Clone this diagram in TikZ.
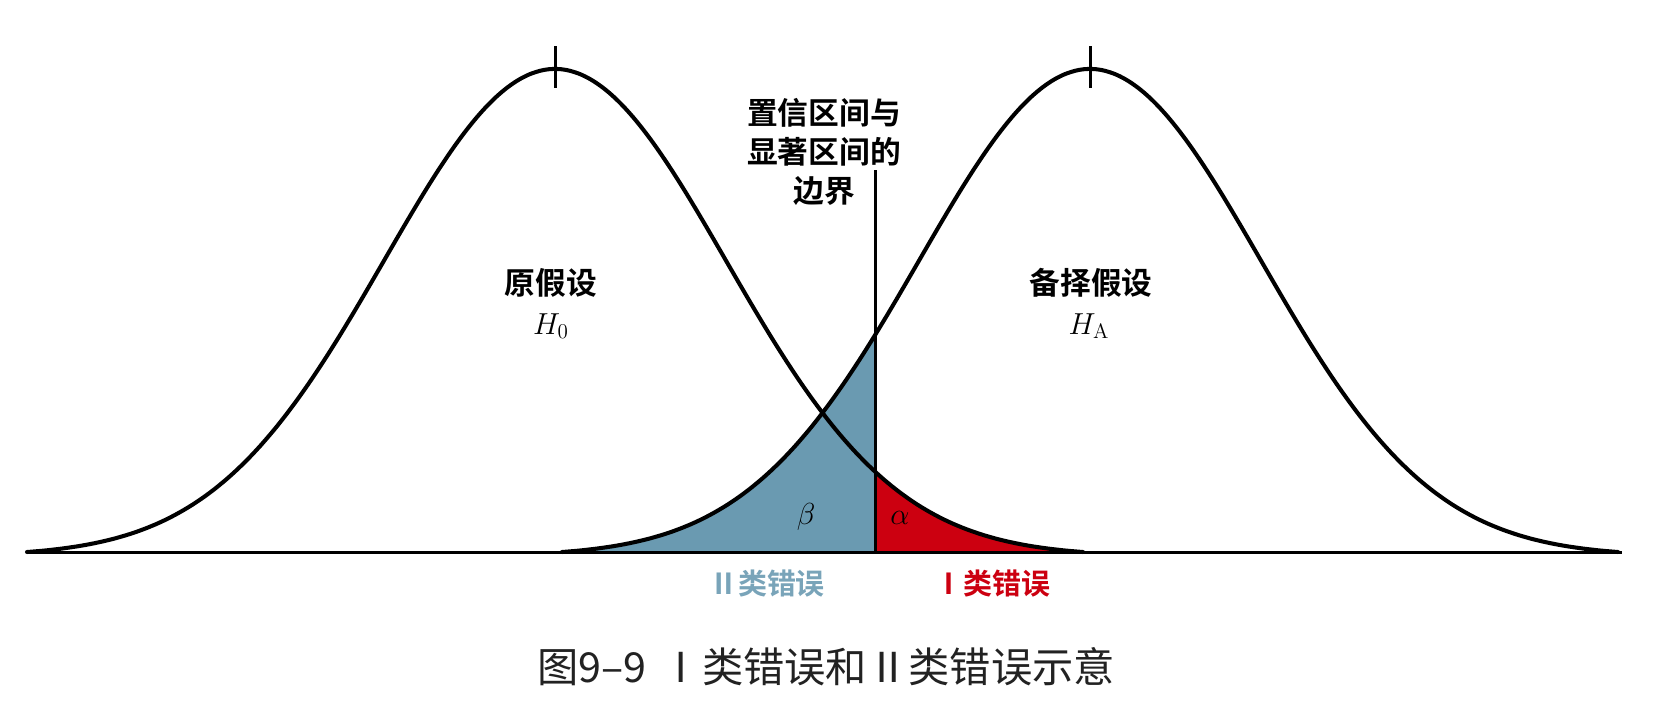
\documentclass[tikz,border=0pt]{standalone}
\usepackage{fontspec}
\newfontfamily\cjkb{Noto Sans CJK SC Bold}
\newfontfamily\cjk{Noto Sans CJK SC}
\definecolor{betablue}{HTML}{6A9AB1}
\definecolor{alphared}{HTML}{CC0010}
\definecolor{captiongray}{HTML}{222222}
\tikzset{
  curve/.style={line width=2.3pt, line join=round, line cap=round},
  axisline/.style={line width=1.7pt},
  lbl/.style={font=\cjkb\fontsize{17.5}{22}\selectfont, align=center, inner sep=0pt},
  errlbl/.style={font=\cjkb\fontsize{16.5}{18}\selectfont, inner sep=0pt},
  mathlbl/.style={font=\fontsize{17}{18}\selectfont, inner sep=0pt},
  declare function={
    gz(\x)=483*(exp(-0.5*((\x-555)/171)^2)-0.0085)/0.9915;
    ga(\x)=483*(exp(-0.5*((\x-1090)/171)^2)-0.0085)/0.9915;
  }
}
\begin{document}
\begin{tikzpicture}[x=0.02cm,y=-0.02cm]
\useasboundingbox (0,0) rectangle (1666,700);
% coordinates
\coordinate (base-l) at (27,552);
\coordinate (base-r) at (1622,552);
\coordinate (bnd-top) at (875.5,170);
\coordinate (bnd-bot) at (875.5,552);
\coordinate (tick0-top) at (555,46);
\coordinate (tick0-bot) at (555,88);
\coordinate (tickA-top) at (1090,46);
\coordinate (tickA-bot) at (1090,88);
% filled error regions
\fill[betablue] plot[domain=562:875.5, samples=120, smooth] (\x,{552-ga(\x)}) -- (bnd-bot) -- cycle;
\fill[alphared] (bnd-bot) -- plot[domain=875.5:1083, samples=100, smooth] (\x,{552-gz(\x)}) -- cycle;
% baseline
\draw[axisline] (base-l) -- (base-r);
% curves
\draw[curve] plot[domain=27:1083, samples=250, smooth] (\x,{552-gz(\x)});
\draw[curve] plot[domain=562:1618, samples=250, smooth] (\x,{552-ga(\x)});
% peak ticks
\draw[axisline] (tick0-top) -- (tick0-bot);
\draw[axisline] (tickA-top) -- (tickA-bot);
% boundary
\draw[axisline] (bnd-top) -- (bnd-bot);
% labels
\node[lbl, font=\cjkb\fontsize{17.5}{22.3}\selectfont] (bndlbl) at (824,152) {置信区间与\\显著区间的\\边界};
\node[lbl] (h0lbl) at (551,283) {原假设};
\node[mathlbl] (h0) at (551,326) {$H_{0}$};
\node[lbl] (halbl) at (1091,283) {备择假设};
\node[mathlbl] (ha) at (1089,326) {$H_{\mathrm{A}}$};
\node[mathlbl] (beta) at (806,517) {$\beta$};
\node[mathlbl, font=\fontsize{16}{18}\selectfont] (alpha) at (900,518) {$\alpha$};
\node[errlbl, text=betablue!90!white] (err2) at (767,584) {Ⅱ类错误};
\node[errlbl, text=alphared] (err1) at (992,584) {Ⅰ类错误};
\node[inner sep=0pt, text=captiongray, font=\cjk\fontsize{23.5}{25}\selectfont] (caption) at (826,667) {图9–9\hspace{0.35em}Ⅰ类错误和Ⅱ类错误示意};
\end{tikzpicture}
\end{document}
